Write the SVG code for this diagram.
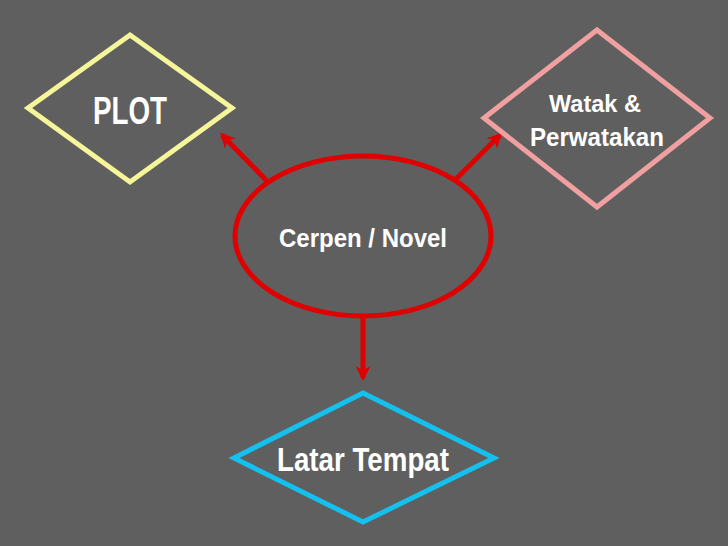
<svg xmlns="http://www.w3.org/2000/svg" width="728" height="546" viewBox="0 0 728 546">
<defs>
<style>
.t{font-family:"Liberation Sans",Arial,sans-serif;font-weight:bold;fill:#fff;text-anchor:middle}
.c{stroke:#e00000;stroke-width:5;fill:none}
</style>
<marker id="ah" viewBox="0 0 10 10" refX="8" refY="5" markerWidth="3" markerHeight="3" orient="auto"><path d="M0,0 L10,5 L0,10 L3,5 Z" fill="#e00000"/></marker>
</defs>
<rect width="728" height="546" fill="#5f5f5f"/>
<g id="connectors">
<line class="c" x1="268" y1="182" x2="222" y2="135" marker-end="url(#ah)"/>
<line class="c" x1="455" y1="180" x2="500" y2="135" marker-end="url(#ah)"/>
<line class="c" x1="363" y1="316" x2="363" y2="378" marker-end="url(#ah)"/>
</g>
<g id="center">
<ellipse cx="363" cy="236" rx="128" ry="80" fill="none" stroke="#e00000" stroke-width="5"/>
<text class="t" x="363" y="247" font-size="26" textLength="168" lengthAdjust="spacingAndGlyphs">Cerpen / Novel</text>
</g>
<g id="plot">
<polygon points="130,35 232,108 130,182 28,108" fill="none" stroke="#f5f59a" stroke-width="5"/>
<text class="t" x="130" y="124" font-size="38" textLength="74" lengthAdjust="spacingAndGlyphs">PLOT</text>
</g>
<g id="watak">
<polygon points="597,30 710,118 597,207 484,118" fill="none" stroke="#f0a0a0" stroke-width="5"/>
<text class="t" x="595" y="112" font-size="23" textLength="92" lengthAdjust="spacingAndGlyphs">Watak &amp;</text>
<text class="t" x="597" y="146" font-size="25" textLength="134" lengthAdjust="spacingAndGlyphs">Perwatakan</text>
</g>
<g id="latar">
<polygon points="363,393 494,458 363,522 234,458" fill="none" stroke="#14c0ee" stroke-width="5"/>
<text class="t" x="363" y="471" font-size="33" textLength="172" lengthAdjust="spacingAndGlyphs">Latar Tempat</text>
</g>
</svg>
